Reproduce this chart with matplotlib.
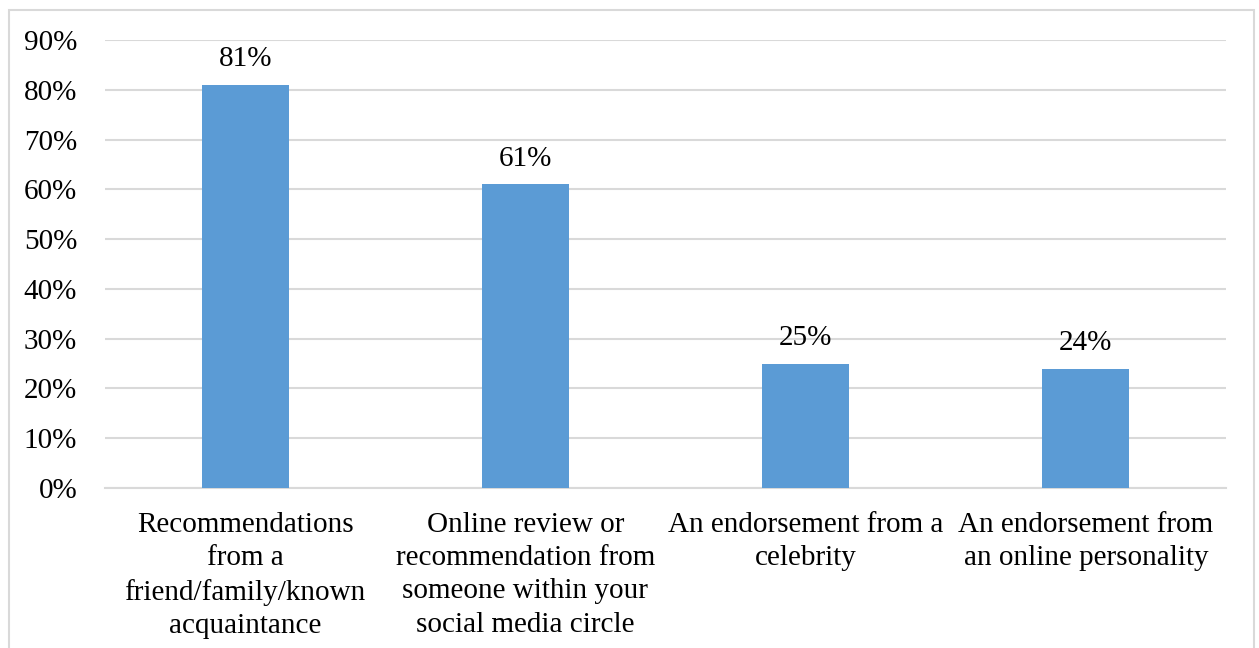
import numpy as np
import matplotlib.pyplot as plt
from matplotlib.patches import Rectangle
from matplotlib.ticker import PercentFormatter

categories = ['Recommendations\nfrom a\nfriend/family/known\nacquaintance',
              'Online review or\nrecommendation from\nsomeone within your\nsocial media circle',
              'An endorsement from a\ncelebrity',
              'An endorsement from\nan online personality']
values = [81, 61, 25, 24]
yticks = np.arange(0, 91, 10)

plt.rcParams['font.family'] = ['Liberation Serif', 'DejaVu Serif']
W, H = 1259, 648
fig = plt.figure(figsize=(W / 100, H / 100), dpi=100)
ax = fig.add_axes([105 / W, 1 - 488 / H, (1226 - 105) / W, (488 - 40) / H])

x = np.arange(len(categories))
bars = ax.bar(x, values, width=0.31, color='#5B9BD5', zorder=3)
for b, v in zip(bars, values):
    ax.annotate(f'{v}%', (b.get_x() + b.get_width() / 2, v), xytext=(0, 9),
                textcoords='offset points', ha='center', va='bottom', fontsize=21)

ax.set_xlim(-0.5, len(categories) - 0.5)
ax.set_ylim(0, 90)
ax.set_yticks(yticks)
ax.yaxis.set_major_formatter(PercentFormatter(decimals=0))
ax.set_xticks(x)
ax.set_xticklabels(categories, fontsize=21, linespacing=1.37)
ax.tick_params(axis='y', length=0, pad=20, labelsize=21)
ax.tick_params(axis='x', length=0, pad=17)
ax.grid(axis='y', color='#D9D9D9', linewidth=1.5, zorder=0)
for s in ['top', 'right', 'left']:
    ax.spines[s].set_visible(False)
ax.spines['bottom'].set_color('#D9D9D9')
ax.spines['bottom'].set_linewidth(1.5)

fig.patches.append(Rectangle((9 / W, -0.05), (1254 - 9) / W, 1.05 - 10 / H,
                             transform=fig.transFigure, fill=False,
                             edgecolor='#D9D9D9', linewidth=1.5))

fig.savefig('out.png', dpi=100)
